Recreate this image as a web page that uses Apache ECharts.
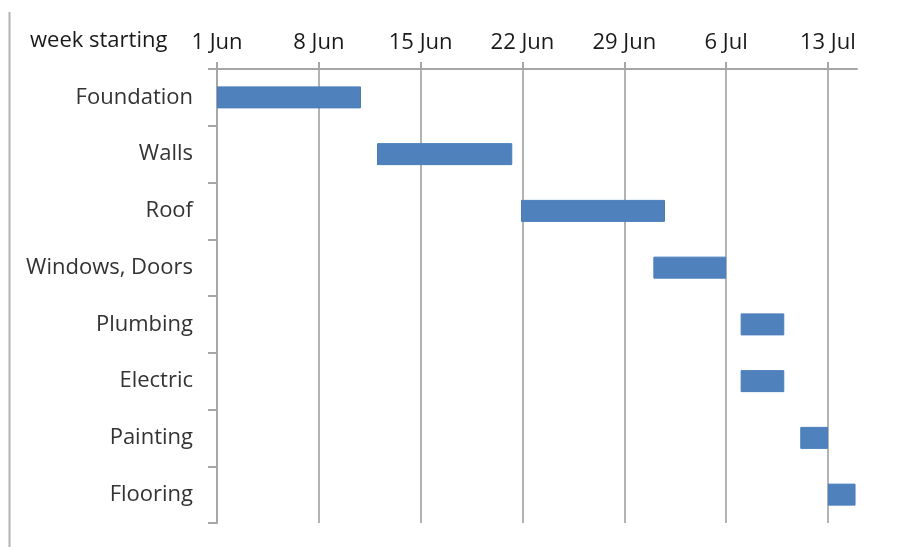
<!DOCTYPE html>
<html>
<head>
<meta charset="utf-8">
<script src="https://cdn.jsdelivr.net/npm/echarts@6/dist/echarts.min.js"></script>
<style>html,body{margin:0;padding:0;background:#fff}#c{width:905px;height:547px}</style>
</head>
<body>
<div id="c"></div>
<script>
// Tasks (top to bottom)
var tasks = ['Foundation', 'Walls', 'Roof', 'Windows, Doors', 'Plumbing', 'Electric', 'Painting', 'Flooring'];
// Start day (days after 1 Jun) and duration in days
var startDay = [0, 11, 20.9, 30, 36, 36, 40.1, 42];
var duration = [9.9, 9.3, 9.9, 5, 3, 3, 1.9, 1.9];
// Week tick labels (every 7 days from 1 Jun)
var weekLabels = ['1 Jun', '8 Jun', '15 Jun', '22 Jun', '29 Jun', '6 Jul', '13 Jul'];
var weekDays = [0, 7, 14, 21, 28, 35, 42];

var FONT = 'Open Sans';
var chart = echarts.init(document.getElementById('c'));
chart.setOption({
  animation: false,
  backgroundColor: '#ffffff',
  title: {
    text: 'week starting',
    left: 25, top: 25,
    textStyle: { fontFamily: FONT, fontSize: 22, fontWeight: 'normal', color: '#1a1a1a' }
  },
  graphic: [{
    type: 'line', shape: { x1: 9.5, y1: 12, x2: 9.5, y2: 547 },
    style: { stroke: '#b3b3b3', lineWidth: 2 }
  }],
  grid: { left: 217, right: 48, top: 69, bottom: 24, containLabel: false },
  xAxis: {
    type: 'value', position: 'top', min: 0, max: 44, interval: 7,
    axisLine: { show: true, lineStyle: { color: '#a6a6a6', width: 2 } },
    axisTick: { show: true, inside: false, length: 7, customValues: weekDays, lineStyle: { color: '#a6a6a6', width: 2 } },
    splitLine: { show: true, lineStyle: { color: '#b3b3b3', width: 2 } },
    axisLabel: {
      margin: 15, fontFamily: FONT, fontSize: 22, color: '#1a1a1a',
      customValues: weekDays,
      formatter: function (v) { var i = Math.round(v / 7); return weekLabels[i] || ''; }
    }
  },
  yAxis: {
    type: 'category', inverse: true, data: tasks,
    axisLine: { show: true, lineStyle: { color: '#a6a6a6', width: 2 } },
    axisTick: { show: true, length: 9, lineStyle: { color: '#a6a6a6', width: 2 } },
    axisLabel: { margin: 24, fontFamily: FONT, fontSize: 22, color: '#333333', padding: [4, 0, 0, 0] }
  },
  series: [{
    type: 'bar', stack: 'g', data: startDay, barWidth: 22,
    itemStyle: { color: 'rgba(0,0,0,0)' }, silent: true
  }, {
    type: 'bar', stack: 'g', data: duration, barWidth: 22,
    itemStyle: { color: '#4f81bd', borderColor: '#4a7ebb', borderWidth: 1 }
  }]
});
</script>
</body>
</html>
